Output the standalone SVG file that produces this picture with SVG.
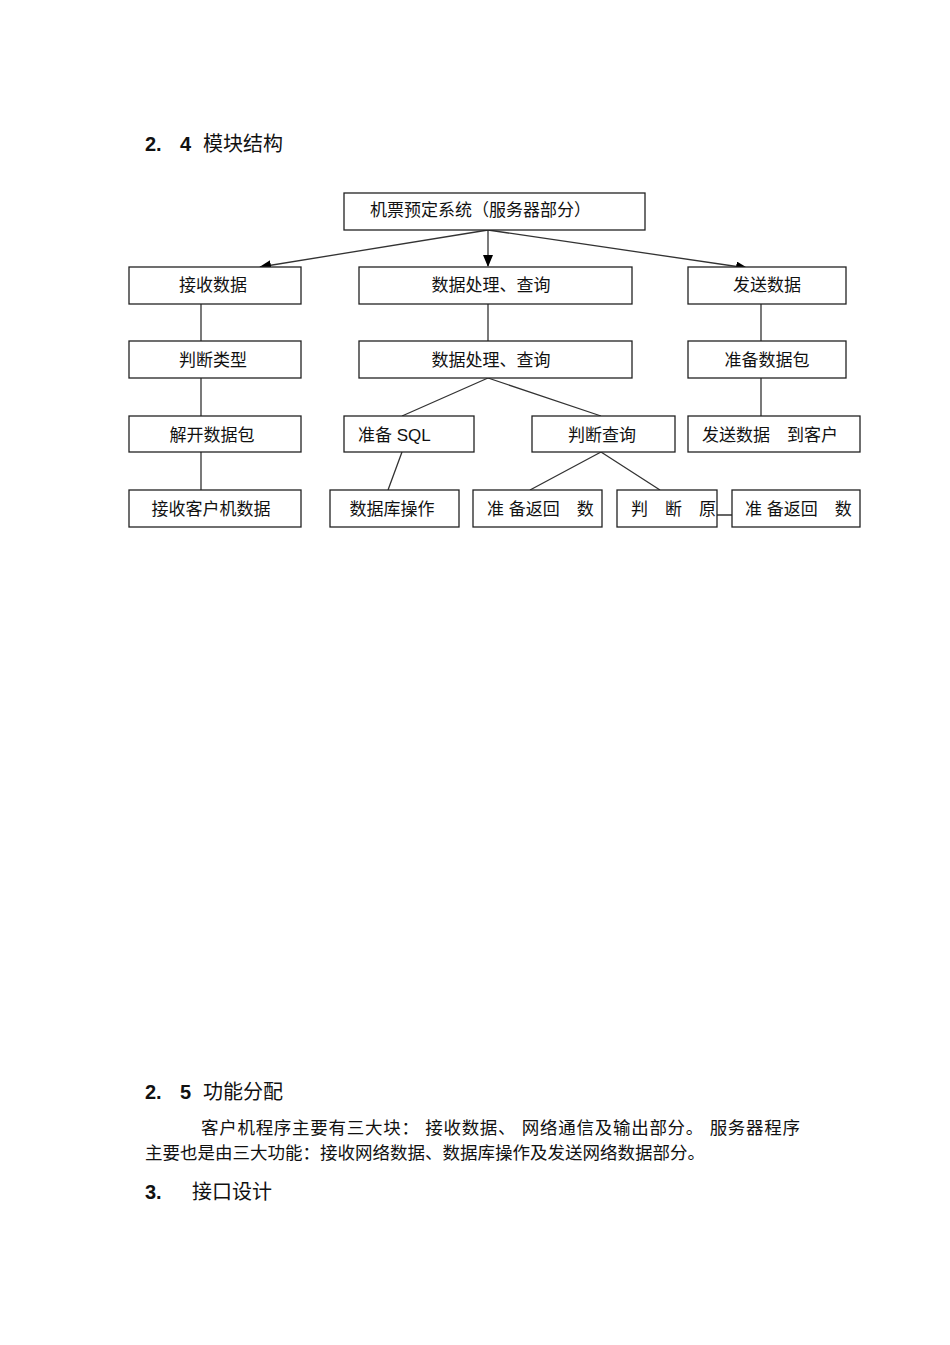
<svg xmlns="http://www.w3.org/2000/svg" width="950" height="1345" viewBox="0 0 950 1345">
<style>
.b{fill:#fff;stroke:#222;stroke-width:1.3}
.t{font-family:"Liberation Sans","Noto Sans CJK SC",sans-serif;font-size:17px;fill:#111}
.p{font-family:"Liberation Sans","Noto Sans CJK SC",sans-serif;font-size:17.5px;fill:#111}
.c{text-anchor:middle}
.h{font-family:"Liberation Sans","Noto Sans CJK SC",sans-serif;font-size:20px;fill:#111}
.l{stroke:#333;stroke-width:1.3;fill:none}
</style>
<defs><marker id="a" markerWidth="12" markerHeight="10" refX="11" refY="5" orient="auto" markerUnits="userSpaceOnUse"><path d="M0,0L12,5L0,10z" fill="#000"/></marker></defs>
<rect width="950" height="1345" fill="#fff"/>
<text class="h" x="145" y="151"><tspan font-weight="bold">2.  </tspan><tspan font-weight="bold" x="180">4</tspan><tspan x="203">模块结构</tspan></text>
<g id="connectors">
<path class="l" d="M488,230L260,267" marker-end="url(#a)"/>
<path class="l" d="M488,230L488,266" marker-end="url(#a)"/>
<path class="l" d="M488,230L747,268" marker-end="url(#a)"/>
<path class="l" d="M201,304V490M488,304V341M761,304V416M488,378L402,416M488,378L601,416M402,452L388,490M601,452L530,490M601,452L660,490M717,515H732"/>
</g>
<g id="n0"><rect class="b" x="344" y="193" width="301" height="37"/><text class="t" x="370" y="216">机票预定系统（服务器部分）</text></g>
<g id="n1"><rect class="b" x="129" y="267" width="172" height="37"/><text class="t c" x="213" y="291">接收数据</text></g>
<g id="n2"><rect class="b" x="359" y="267" width="273" height="37"/><text class="t c" x="491" y="291">数据处理、查询</text></g>
<g id="n3"><rect class="b" x="688" y="267" width="158" height="37"/><text class="t c" x="767" y="291">发送数据</text></g>
<g id="n4"><rect class="b" x="129" y="341" width="172" height="37"/><text class="t c" x="213" y="366">判断类型</text></g>
<g id="n5"><rect class="b" x="359" y="341" width="273" height="37"/><text class="t c" x="491" y="366">数据处理、查询</text></g>
<g id="n6"><rect class="b" x="688" y="341" width="158" height="37"/><text class="t c" x="767" y="366">准备数据包</text></g>
<g id="n7"><rect class="b" x="129" y="416" width="172" height="36"/><text class="t c" x="212" y="441">解开数据包</text></g>
<g id="n8"><rect class="b" x="344" y="416" width="130" height="36"/><text class="t" x="358" y="441">准备 SQL</text></g>
<g id="n9"><rect class="b" x="532" y="416" width="143" height="36"/><text class="t c" x="602" y="441">判断查询</text></g>
<g id="n10"><rect class="b" x="688" y="416" width="172" height="36"/><text class="t" x="702" y="441">发送数据　到客户</text></g>
<g id="n11"><rect class="b" x="129" y="490" width="172" height="37"/><text class="t c" x="211" y="515">接收客户机数据</text></g>
<g id="n12"><rect class="b" x="330" y="490" width="129" height="37"/><text class="t c" x="392" y="515">数据库操作</text></g>
<g id="n13"><rect class="b" x="473" y="490" width="129" height="37"/><text class="t" x="487" y="515">准 备返回　数</text></g>
<g id="n14"><rect class="b" x="617" y="490" width="100" height="37"/><text class="t" x="631" y="515">判　断　原</text></g>
<g id="n15"><rect class="b" x="732" y="490" width="128" height="37"/><text class="t" x="745" y="515">准 备返回　数</text></g>
<text class="h" x="145" y="1099"><tspan font-weight="bold">2.  </tspan><tspan font-weight="bold" x="180">5</tspan><tspan x="203">功能分配</tspan></text>
<text class="p" x="201" y="1134" textLength="599">客户机程序主要有三大块：  接收数据、 网络通信及输出部分。  服务器程序</text>
<text class="p" x="145" y="1159" textLength="560">主要也是由三大功能：接收网络数据、数据库操作及发送网络数据部分。</text>
<text class="h" x="145" y="1199"><tspan font-weight="bold">3.</tspan><tspan x="192">接口设计</tspan></text>
</svg>
